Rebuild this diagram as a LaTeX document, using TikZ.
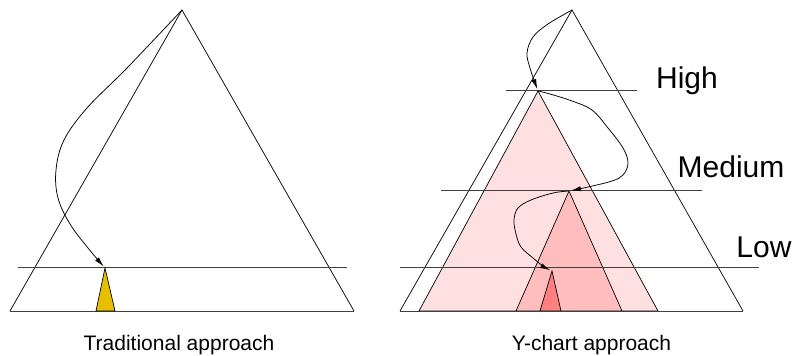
\documentclass[tikz,border=0pt]{standalone}
\usepackage{fontspec}
\setmainfont{Liberation Sans}
\usetikzlibrary{arrows.meta}
\definecolor{pinkA}{HTML}{FFE0E0}
\definecolor{pinkB}{HTML}{FFBDBD}
\definecolor{pinkC}{HTML}{FF8080}
\definecolor{gold}{HTML}{E6C000}
\begin{document}
\begin{tikzpicture}[x=1pt,y=-1pt,
  edge/.style={draw=black,line width=0.7pt,line join=miter},
  level/.style={draw=black!75,line width=0.8pt},
  flow/.style={draw=black,line width=0.75pt,shorten >=2pt,-{Latex[length=10pt,width=5pt]}},
  bigtext/.style={font=\fontsize{30}{36}\selectfont,anchor=base,inner sep=0pt},
  captext/.style={font=\fontsize{21}{25}\selectfont,anchor=base,inner sep=0pt}]
\useasboundingbox (0,0) rectangle (798,356);
% ---------- left ----------
\coordinate (LT) at (182,10);
\coordinate (LL) at (10,311);
\coordinate (LR) at (354,311);
\coordinate (YT) at (105,268);
\coordinate (YL) at (96,311);
\coordinate (YR) at (115,311);
\coordinate (LlineA) at (18,267.5);
\coordinate (LlineB) at (347,267.5);
\draw[edge] (LL) -- (LT) -- (LR);
\draw[level] (LL) -- (LR);
\draw[level] (LlineA) -- (LlineB);
\filldraw[fill=gold,edge] (YL) -- (YT) -- (YR) -- cycle;
\draw[flow] plot[smooth,tension=0.6] coordinates {(LT) (127,68) (87,108) (64,140) (56,170) (58,198) (70,224) (88,248) (YT)};
\node[captext] (capL) at (179,350) {Traditional approach};
% ---------- right ----------
\coordinate (RT) at (572,10);
\coordinate (RL) at (400,311);
\coordinate (RR) at (743,311);
\coordinate (P1T) at (538,91);
\coordinate (P1L) at (419,311);
\coordinate (P1R) at (658,311);
\coordinate (P2T) at (569,191);
\coordinate (P2L) at (516,311);
\coordinate (P2R) at (622,311);
\coordinate (P3T) at (552,271);
\coordinate (P3L) at (540,311);
\coordinate (P3R) at (561,311);
\coordinate (HA) at (506,90.7);
\coordinate (HB) at (637,90.7);
\coordinate (MA) at (441,190.7);
\coordinate (MB) at (702,190.7);
\coordinate (WA) at (400,267.7);
\coordinate (WB) at (759,267.7);
\draw[edge] (RL) -- (RT) -- (RR);
\filldraw[fill=pinkA,edge] (P1L) -- (P1T) -- (P1R) -- cycle;
\filldraw[fill=pinkB,edge] (P2L) -- (P2T) -- (P2R) -- cycle;
\filldraw[fill=pinkC,edge] (P3L) -- (P3T) -- (P3R) -- cycle;
\draw[level] (RL) -- (RR);
\draw[level] (HA) -- (HB);
\draw[level] (MA) -- (MB);
\draw[level] (WA) -- (WB);
\draw[flow] plot[smooth,tension=0.6] coordinates {(RT) (548,24) (533,37) (527,53) (530,68) (534,80) (P1T)};
\draw[flow] plot[smooth,tension=0.6] coordinates {(P1T) (550,94) (572,101) (592,110) (608,128) (623,148) (628,163) (623,175) (612,181) (588,187) (P2T)};
\draw[flow] plot[smooth,tension=0.6] coordinates {(P2T) (553,193) (531,200) (518,208) (514,220) (516,234) (521,247) (533,258) (543,266) (P3T)};
\node[bigtext] (high) at (687,88) {High};
\node[bigtext] (medium) at (731,177) {Medium};
\node[bigtext] (low) at (764,257) {Low};
\node[captext] (capR) at (591.5,350) {Y-chart approach};
\end{tikzpicture}
\end{document}
